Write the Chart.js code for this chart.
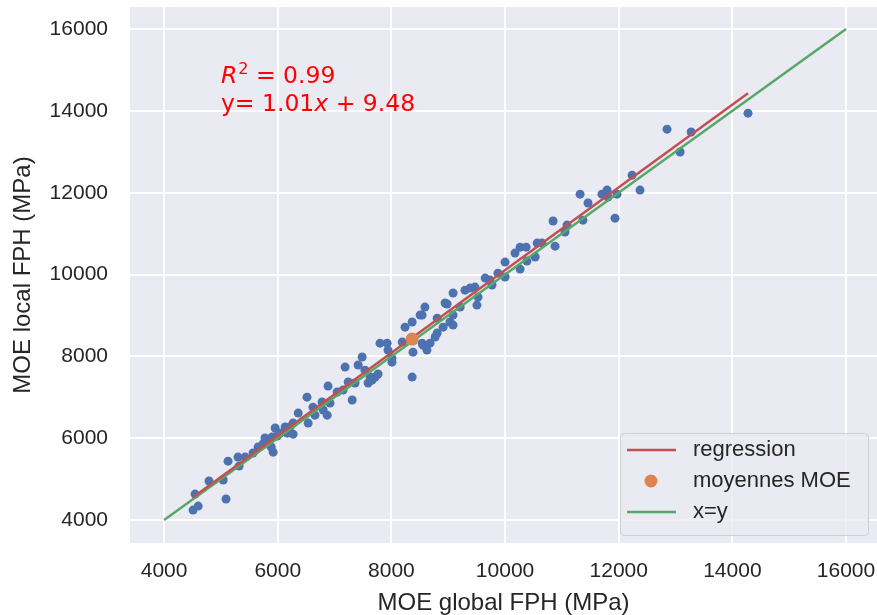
<!DOCTYPE html>
<html>
<head>
<meta charset="utf-8">
<script src="https://cdn.jsdelivr.net/npm/chart.js@4.4.0/dist/chart.umd.min.js"></script>
<style>
  html, body { margin: 0; padding: 0; background: #fff; overflow: hidden; }
  #wrap { width: 877px; height: 615px; }
  canvas { display: block; }
</style>
</head>
<body>
<div id="wrap"><canvas id="moeChart" width="877" height="615"></canvas></div>
<script>
// MOE global FPH (x) vs MOE local FPH (y), in MPa
const moeGlobal = [
    4545, 4510, 4600, 4790, 5040, 5090, 5125, 5300, 5320, 5425,
    5565, 5655, 5740, 5810, 5900, 5920, 5885, 5955, 6040, 6165,
    6215, 6270, 6535, 5775, 5990, 6130, 6270, 6360, 6515, 6620,
    6655, 6780, 6800, 6870, 6885, 6920, 7045, 7150, 7185, 7240,
    7310, 7360, 7415, 7485, 7535, 7590, 7660, 7715, 7765, 7800,
    7925, 7940, 8010, 8010, 8240, 8365, 8380, 8505, 8590, 8365,
    8540, 8625, 8680, 8805, 8805, 7625, 8190, 8555, 8770, 8945,
    9030, 9085, 9085, 9210, 9295, 9385, 9470, 9525, 9505, 9650,
    9735, 9770, 9875, 10000, 10000, 8540, 8910, 8980, 9085, 10175,
    10265, 10265, 10370, 10385, 10530, 10565, 10650, 10845, 10880, 11055,
    11090, 11370, 11460, 11320, 11705, 11795, 11810, 11970, 11935, 12235,
    12375, 13080, 12850, 13275, 14275
];
const moeLocal = [
    4635, 4244, 4342, 4955, 4980, 4515, 5440, 5540, 5320, 5540,
    5640, 5785, 5860, 5880, 6030, 5660, 5785, 6250, 6125, 6125,
    6275, 6100, 6370, 6005, 6055, 6275, 6370, 6615, 7005, 6760,
    6565, 6885, 6690, 6565, 7275, 6860, 7130, 7180, 7740, 7375,
    6935, 7350, 7790, 7985, 7665, 7350, 7420, 7495, 7570, 8325,
    8325, 8155, 7960, 7860, 8715, 8840, 8105, 9010, 9205, 7495,
    8325, 8155, 8325, 8935, 8570, 7495, 8350, 8275, 8475, 9305,
    8840, 9550, 9010, 9205, 9620, 9670, 9695, 9450, 9255, 9915,
    9865, 9745, 10035, 9940, 10305, 9010, 8715, 9280, 8765, 10525,
    10670, 10135, 10670, 10330, 10430, 10770, 10770, 11310, 10695, 11040,
    11210, 11330, 11750, 11965, 11965, 12065, 11895, 11965, 11380, 12430,
    12065, 12995, 13555, 13485, 13945
];
const meanGlobal = [8365];
const meanLocal = [8425];
const regX = [4510, 14275];
const regY = [4560, 14430];
const identityXY = [4000, 16000];
const tickValues = [4000, 6000, 8000, 10000, 12000, 14000, 16000];
const r2Text = '0.99';
const slopeText = '1.01';
const interceptText = '9.48';

const TEXT = '#262626';
const SANS = '"Liberation Sans", Arial, sans-serif';

const bgPlugin = {
    id: 'bg',
    beforeDraw(chart) {
        const a = chart.chartArea, ctx = chart.ctx;
        ctx.save();
        ctx.fillStyle = '#EAEAF2';
        ctx.fillRect(a.left, a.top, a.right - a.left, a.bottom - a.top);
        ctx.restore();
    }
};

const notePlugin = {
    id: 'note',
    afterDatasetsDraw(chart) {
        const ctx = chart.ctx;
        const x0 = chart.scales.x.getPixelForValue(5000);
        const y0 = chart.scales.y.getPixelForValue(14000);
        const big = '23.5px "DejaVu Sans"';
        ctx.save();
        ctx.fillStyle = '#ff0000';
        ctx.textBaseline = 'alphabetic';
        ctx.textAlign = 'left';
        // R^2 = 0.99
        let x = x0, y = y0 - 28;
        ctx.font = 'italic ' + big;
        ctx.fillText('R', x, y);
        x += ctx.measureText('R').width + 1;
        ctx.font = '16px "DejaVu Sans"';
        ctx.fillText('2', x, y - 9);
        x += ctx.measureText('2').width;
        ctx.font = big;
        ctx.fillText(' = ' + r2Text, x, y);
        // y= 1.01x + 9.48
        x = x0; y = y0;
        ctx.fillText('y= ' + slopeText, x, y);
        x += ctx.measureText('y= ' + slopeText).width;
        ctx.font = 'italic ' + big;
        ctx.fillText('x', x, y);
        x += ctx.measureText('x').width;
        ctx.font = big;
        ctx.fillText(' + ' + interceptText, x, y);
        ctx.restore();
    }
};

const legendPlugin = {
    id: 'boxLegend',
    afterDraw(chart) {
        const ctx = chart.ctx, a = chart.chartArea;
        const w = 248, h = 102;
        const left = a.right - 9 - w, top = a.bottom - 8 - h;
        ctx.save();
        ctx.beginPath();
        ctx.roundRect(left + 0.5, top + 0.5, w, h, 4);
        ctx.fillStyle = 'rgba(234,234,242,0.8)';
        ctx.fill();
        ctx.strokeStyle = '#cfcfd6';
        ctx.lineWidth = 1;
        ctx.stroke();
        const items = chart.data.datasets.filter(d => d.label);
        items.forEach((d, i) => {
            const cy = top + 17 + i * 31;
            if (d.showLine) {
                ctx.strokeStyle = d.borderColor;
                ctx.lineWidth = 2.5;
                ctx.beginPath();
                ctx.moveTo(left + 7, cy);
                ctx.lineTo(left + 56, cy);
                ctx.stroke();
            } else {
                ctx.fillStyle = d.backgroundColor;
                ctx.beginPath();
                ctx.arc(left + 31, cy, 6.5, 0, Math.PI * 2);
                ctx.fill();
            }
            ctx.fillStyle = TEXT;
            ctx.font = '22px ' + SANS;
            ctx.textBaseline = 'middle';
            ctx.fillText(d.label, left + 73, cy);
        });
        ctx.restore();
    }
};

function toPoints(xs, ys) {
    return xs.map((v, i) => ({ x: v, y: ys[i] }));
}

function axis(title, isX) {
    return {
        type: 'linear',
        min: isX ? 3400 : 3440,
        max: isX ? 16545 : 16540,
        afterBuildTicks: s => { s.ticks = tickValues.map(v => ({ value: v })); },
        afterFit: s => {
            if (isX) {
                s.height = 72;
                s.paddingLeft = 0;
                s.paddingRight = 0;
            } else {
                s.width = 130;
                s.paddingTop = 0;
                s.paddingBottom = 0;
            }
        },
        grid: { color: '#ffffff', lineWidth: 2, drawTicks: false },
        border: { display: false },
        ticks: {
            color: TEXT,
            font: { family: SANS, size: 21 },
            padding: isX ? 16 : 22,
            maxRotation: 0,
            autoSkip: false,
            callback: v => String(v)
        },
        title: {
            display: true,
            text: title,
            color: TEXT,
            font: { family: SANS, size: 24, lineHeight: 1 },
            padding: isX ? { top: 0, bottom: 0 } : { top: 11, bottom: 0 }
        }
    };
}

const ctx = document.getElementById('moeChart').getContext('2d');
new Chart(ctx, {
    type: 'scatter',
    data: {
        datasets: [
            {
                label: 'regression',
                data: toPoints(regX, regY),
                showLine: true,
                borderColor: '#C44E52',
                borderWidth: 2.5,
                pointRadius: 0,
                order: 1
            },
            {
                label: 'moyennes MOE',
                data: toPoints(meanGlobal, meanLocal),
                backgroundColor: '#DD8452',
                borderWidth: 0,
                pointRadius: 6.5,
                order: 0
            },
            {
                label: 'x=y',
                data: toPoints(identityXY, identityXY),
                showLine: true,
                borderColor: '#55A868',
                borderWidth: 2.5,
                pointRadius: 0,
                order: 2
            },
            {
                data: toPoints(moeGlobal, moeLocal),
                backgroundColor: '#4C72B0',
                borderWidth: 0,
                pointRadius: 4.5,
                order: 3
            }
        ]
    },
    options: {
        responsive: false,
        animation: false,
        devicePixelRatio: 1,
        layout: { autoPadding: false, padding: { left: 0, right: 0, top: 7, bottom: 0 } },
        plugins: {
            legend: { display: false },
            tooltip: { enabled: false }
        },
        scales: {
            x: axis('MOE global FPH (MPa)', true),
            y: axis('MOE local FPH (MPa)', false)
        }
    },
    plugins: [bgPlugin, notePlugin, legendPlugin]
});
</script>
</body>
</html>
